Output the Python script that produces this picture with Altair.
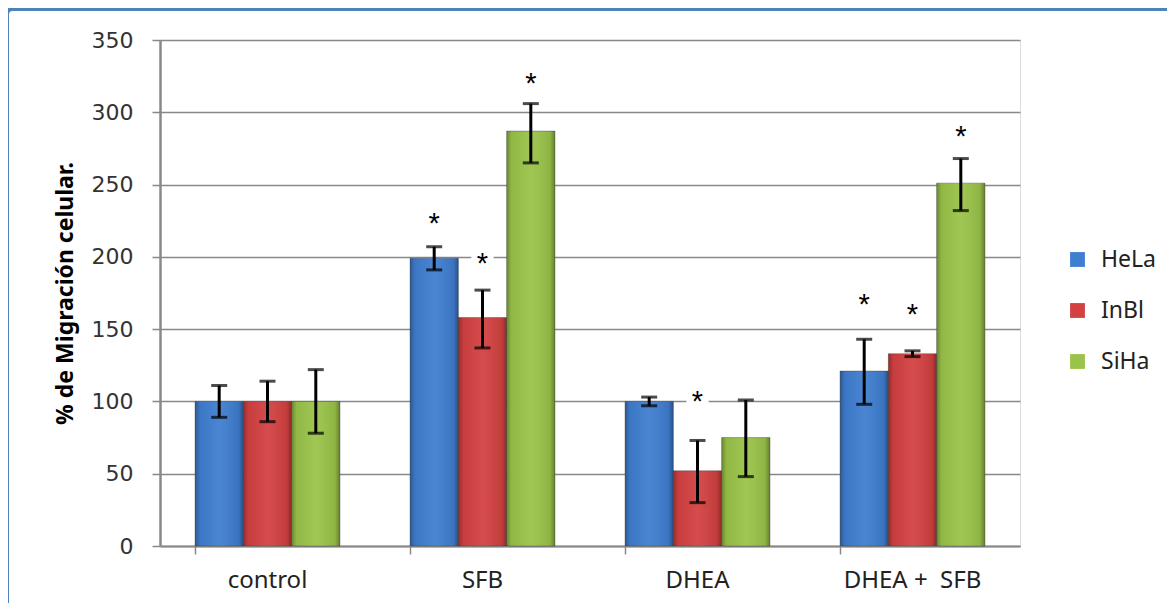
import altair as alt
import pandas as pd

categories = ["control", "SFB", "DHEA", "DHEA +\u00a0 SFB"]
series = ["HeLa", "InBl", "SiHa"]
colors = ["#3F7ED0", "#D34141", "#9AC349"]

hela = [100, 199, 100, 121]
inbl = [100, 158, 52, 133]
siha = [100, 287, 75, 251]

hela_lo = [89, 191, 97, 98]
hela_hi = [111, 207, 103, 143]
inbl_lo = [86, 137, 30, 131]
inbl_hi = [114, 177, 73, 135]
siha_lo = [78, 265, 48, 232]
siha_hi = [122, 306, 101, 268]

# asterisk label positions (value units), None = no label
hela_star = [None, 227, None, 171]
inbl_star = [None, 199, 104, 164]
siha_star = [None, 324, None, 287]

rows = []
for s, vals, lo, hi, st in [
    ("HeLa", hela, hela_lo, hela_hi, hela_star),
    ("InBl", inbl, inbl_lo, inbl_hi, inbl_star),
    ("SiHa", siha, siha_lo, siha_hi, siha_star),
]:
    for i, c in enumerate(categories):
        rows.append({"cat": c, "serie": s, "val": vals[i], "lo": lo[i], "hi": hi[i],
                     "star": st[i], "lab": "*" if st[i] is not None else None})
df = pd.DataFrame(rows)
stars = df[df["star"].notna()]

x_enc = alt.X("cat:N", sort=categories,
              scale=alt.Scale(paddingInner=0.326, paddingOuter=0.163),
              axis=alt.Axis(title=None, labelAngle=0, labelFont="Noto Sans", labelFontSize=24,
                            labelColor="#222222", labelPadding=14, tickSize=8, tickColor="#888888",
                            tickWidth=1.5, bandPosition=0, domainColor="#888888", domainWidth=2,
                            ticks=True))
xo = alt.XOffset("serie:N", sort=series)
y_scale = alt.Scale(domain=[0, 350], nice=False)

bars = alt.Chart(df).mark_bar(stroke="#44444466", strokeWidth=1).encode(
    x=x_enc, xOffset=xo,
    y=alt.Y("val:Q", scale=y_scale,
            axis=alt.Axis(title="% de Migración celular.", values=list(range(0, 351, 50)),
                          labelFont="DejaVu Sans", labelFontSize=22, labelColor="#333333",
                          labelPadding=19, tickSize=8, tickColor="#888888", tickWidth=1.5,
                          grid=True, gridColor="#888888", gridWidth=1.5,
                          domainColor="#888888", domainWidth=2.5,
                          titleFont="Noto Sans", titleFontSize=23, titleFontWeight="bold",
                          titleColor="#000000", titlePadding=14)),
    color=alt.Color("serie:N", sort=series, scale=alt.Scale(domain=series, range=colors),
                    legend=alt.Legend(title=None, orient="none", legendX=906, legendY=208,
                                      symbolType="square", symbolSize=220, symbolStrokeWidth=0,
                                      labelFont="Noto Sans", labelFontSize=23, labelColor="#222222",
                                      labelOffset=12, rowPadding=27)),
)

shade = alt.Chart(df).mark_bar(
    fill=alt.Gradient(gradient="linear", x1=0, x2=1, y1=0, y2=0, stops=[
        alt.GradientStop(offset=0, color="rgba(0,0,0,0.30)"),
        alt.GradientStop(offset=0.1, color="rgba(0,0,0,0.06)"),
        alt.GradientStop(offset=0.5, color="rgba(255,255,255,0.06)"),
        alt.GradientStop(offset=0.9, color="rgba(0,0,0,0.08)"),
        alt.GradientStop(offset=1, color="rgba(0,0,0,0.35)"),
    ])
).encode(x=alt.X("cat:N", sort=categories), xOffset=xo, y=alt.Y("val:Q", scale=y_scale))

err = alt.Chart(df).mark_rule(color="#000000", strokeWidth=3).encode(
    x=alt.X("cat:N", sort=categories), xOffset=xo,
    y=alt.Y("lo:Q", scale=y_scale), y2="hi:Q")
cap_lo = alt.Chart(df).mark_tick(color="#000000", thickness=3, size=16).encode(
    x=alt.X("cat:N", sort=categories), xOffset=xo, y=alt.Y("lo:Q", scale=y_scale))
cap_hi = alt.Chart(df).mark_tick(color="#000000", thickness=3, size=16).encode(
    x=alt.X("cat:N", sort=categories), xOffset=xo, y=alt.Y("hi:Q", scale=y_scale))

star_bg = alt.Chart(stars).mark_square(color="white", opacity=1, size=500).encode(
    x=alt.X("cat:N", sort=categories), xOffset=xo, y=alt.Y("star:Q", scale=y_scale))
star_txt = alt.Chart(stars).mark_text(font="Liberation Sans", fontSize=29, color="#000000",
                                      baseline="middle", dy=6).encode(
    x=alt.X("cat:N", sort=categories), xOffset=xo, y=alt.Y("star:Q", scale=y_scale),
    text="lab:N")

frame = alt.Chart(pd.DataFrame({"k": [0]})).mark_rect(
    fill="transparent", stroke="#4F81BD", strokeWidth=5, cornerRadius=6, clip=False
).encode(x=alt.value(-153.5), x2=alt.value(1030), y=alt.value(-31.5), y2=alt.value(600))

chart = alt.layer(bars, shade, err, cap_lo, cap_hi, star_bg, star_txt, frame).properties(
    width=860, height=506,
    padding={"left": 152, "top": 32, "right": 147, "bottom": 57},
    autosize=alt.AutoSizeParams(type="none"),
).configure_view(stroke=None).configure(background="white")

chart.save("out.html", embed_options={"renderer": "svg", "actions": False})
